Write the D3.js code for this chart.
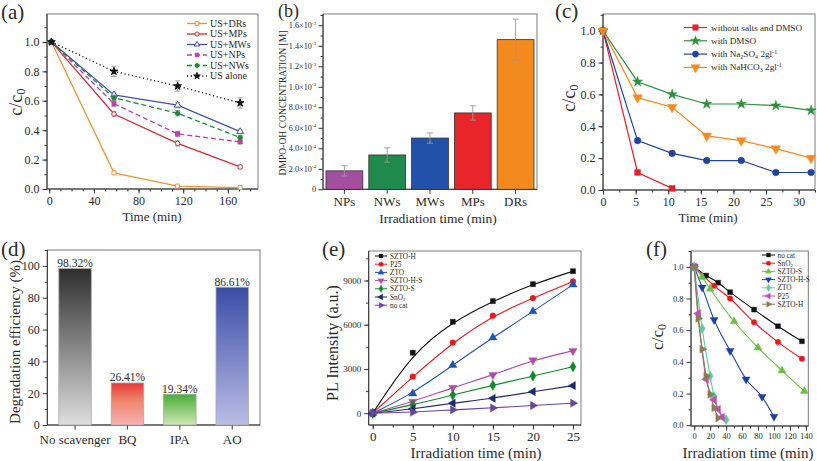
<!DOCTYPE html>
<html><head><meta charset="utf-8">
<script src="https://cdn.jsdelivr.net/npm/d3@7"></script>
<style>body{margin:0;background:#fff}svg{display:block}text{font-family:"Liberation Serif","Times New Roman",serif;fill:#2b2b2b}</style>
</head><body><svg id="c" width="817" height="461"></svg>
<script>
// ---------- DATA ----------
// (a)
const aTime = [2, 58, 115, 171];
const aNames = ["US+DRs","US+MPs","US+MWs","US+NPs","US+NWs","US alone"];
const aDRs = [1.0, 0.11, 0.02, 0.01];
const aMPs = [1.0, 0.51, 0.31, 0.15];
const aMWs = [1.0, 0.64, 0.57, 0.39];
const aNPs = [1.0, 0.58, 0.375, 0.32];
const aNWs = [1.0, 0.62, 0.515, 0.35];
const aAlone = [1.0, 0.80, 0.70, 0.585];
const aErr = [0, 0.03, 0.03, 0.02];
const aXTicks = [0, 40, 80, 120, 160];
const aYTicks = [0, 0.2, 0.4, 0.6, 0.8, 1.0];
// (b)
const bCats = ["NPs","NWs","MWs","MPs","DRs"];
const bVals = [1.8e-4, 3.35e-4, 5.0e-4, 7.45e-4, 1.46e-3];
const bErr = [0.5e-4, 0.7e-4, 0.5e-4, 0.7e-4, 2.0e-4];
const bYTicks = [0, 2e-4, 4e-4, 6e-4, 8e-4, 1.0e-3, 1.2e-3, 1.4e-3, 1.6e-3];
const bYMant = ["0","2.0×10","4.0×10","6.0×10","8.0×10","1.0×10","1.2×10","1.4×10","1.6×10"];
const bYExp = ["","-4","-4","-4","-4","-3","-3","-3","-3"];
// (c)
const cTime = [0, 5.3, 10.6, 15.9, 21.2, 26.5, 31.9];
const cNone = [1.0, 0.11, 0.01];
const cDMSO = [1.0, 0.68, 0.60, 0.54, 0.54, 0.53, 0.50];
const cNa2SO4 = [1.0, 0.31, 0.23, 0.185, 0.185, 0.11, 0.11];
const cNaHCO3 = [1.0, 0.58, 0.52, 0.34, 0.31, 0.26, 0.20];
const cXTicks = [0, 5, 10, 15, 20, 25, 30];
const cYTicks = [0, 0.2, 0.4, 0.6, 0.8, 1.0];
// (d)
const dCats = ["No scavenger","BQ","IPA","AO"];
const dVals = [98.32, 26.41, 19.34, 86.61];
const dLabels = ["98.32%","26.41%","19.34%","86.61%"];
const dYTicks = [0, 20, 40, 60, 80, 100];
// (e)
const eTime = [0, 5, 10, 15, 20, 25];
const eNames = ["SZTO-H","P25","ZTO","SZTO-H-S","SZTO-S","SnO2","no cat"];
const eSZTOH = [0, 4100, 6200, 7600, 8750, 9630];
const eP25 = [0, 2480, 4790, 6610, 7810, 8940];
const eZTO = [0, 1330, 3260, 5130, 6900, 8720];
const eSZTOHS = [0, 790, 1730, 2590, 3600, 4230];
const eSZTOS = [0, 560, 1240, 1890, 2520, 3150];
const eSnO2 = [0, 290, 680, 1010, 1460, 1870];
const eNoCat = [0, 70, 230, 360, 520, 680];
const eXTicks = [0, 5, 10, 15, 20, 25];
const eYTicks = [0, 3000, 6000, 9000];
// (f)
const fNoCatT = [0, 15, 30, 45, 75, 105, 135];
const fNoCat = [1.0, 0.945, 0.90, 0.84, 0.73, 0.625, 0.53];
const fSnO2T = [0, 25, 45, 75, 105, 135];
const fSnO2 = [1.0, 0.88, 0.80, 0.65, 0.525, 0.42];
const fSZTOST = [0, 10, 20, 50, 80, 110, 138];
const fSZTOS = [1.0, 0.935, 0.86, 0.655, 0.49, 0.345, 0.215];
const fSZTOHST = [0, 10, 25, 45, 65, 85, 100];
const fSZTOHS = [1.0, 0.87, 0.665, 0.47, 0.29, 0.18, 0.055];
const fZTOT = [0, 10, 20, 25, 40];
const fZTO = [1.0, 0.61, 0.31, 0.18, 0.035];
const fP25T = [0, 5, 15, 25, 30, 35];
const fP25 = [1.0, 0.705, 0.29, 0.16, 0.10, 0.05];
const fSZTOHT = [0, 5, 10, 15, 20, 25, 30];
const fSZTOH = [1.0, 0.675, 0.48, 0.31, 0.195, 0.11, 0.045];
const fXTicks = [0, 20, 40, 60, 80, 100, 120, 140];
const fYTicks = [0, 0.2, 0.4, 0.6, 0.8, 1.0];

// ---------- HELPERS ----------
const svg = d3.select("#c");
svg.append("rect").attr("width",817).attr("height",461).attr("fill","#fff");

function range(a,b,s){const r=[];for(let v=a;v<=b+1e-9;v+=s)r.push(+v.toFixed(6));return r;}

function frame(x, y){
  const [x0,x1]=x.range(), [y0,y1]=y.range();
  svg.append("rect").attr("x",x0).attr("y",y1).attr("width",x1-x0).attr("height",y0-y1)
    .attr("fill","none").attr("stroke","#7a7a7a").attr("stroke-width",1);
}
function axisX(x, y, ticks, minor, fs, fmt){
  const yb=y.range()[0];
  const g=svg.append("g").attr("transform",`translate(0,${yb})`);
  if(minor) g.append("g").call(d3.axisBottom(x).tickValues(minor).tickSize(2.5).tickFormat("")).call(s=>s.select(".domain").remove());
  const a=d3.axisBottom(x).tickSize(4.5).tickSizeOuter(0).tickPadding(2.5);
  if(ticks) a.tickValues(ticks);
  a.tickFormat(fmt||(d=>d));
  g.append("g").call(a).call(s=>s.select(".domain").remove());
  g.selectAll("text").attr("font-size",fs).attr("font-family","Liberation Serif");
  g.selectAll("line").attr("stroke","#333");
  svg.append("line").attr("x1",x.range()[0]).attr("x2",x.range()[1]).attr("y1",yb).attr("y2",yb).attr("stroke","#333");
  return g;
}
function axisY(x, y, ticks, minor, fs, fmt){
  const xl=x.range()[0];
  const g=svg.append("g").attr("transform",`translate(${xl},0)`);
  if(minor) g.append("g").call(d3.axisLeft(y).tickValues(minor).tickSize(2.5).tickFormat("")).call(s=>s.select(".domain").remove());
  const a=d3.axisLeft(y).tickValues(ticks).tickSize(4.5).tickSizeOuter(0).tickPadding(3).tickFormat(fmt||(d=>d));
  g.append("g").call(a).call(s=>s.select(".domain").remove());
  g.selectAll("text").attr("font-size",fs).attr("font-family","Liberation Serif");
  g.selectAll("line").attr("stroke","#333");
  svg.append("line").attr("x1",xl).attr("x2",xl).attr("y1",y.range()[0]).attr("y2",y.range()[1]).attr("stroke","#333");
  return g;
}
function label(txt,x,y,fs,rot,anchor){
  const t=svg.append("text").attr("x",x).attr("y",y).attr("font-size",fs).attr("text-anchor",anchor||"middle").text(txt);
  if(rot) t.attr("transform",`rotate(-90,${x},${y})`);
  return t;
}
function ccLabel(x,y,fs){
  const t=svg.append("text").attr("transform",`translate(${x},${y}) rotate(-90)`).attr("font-size",fs).attr("text-anchor","middle");
  t.append("tspan").text("c/c");
  t.append("tspan").attr("font-size",fs*0.7).attr("dy",fs*0.15).text("0");
}
const sym={square:d3.symbolSquare,circle:d3.symbolCircle,tri:d3.symbolTriangle,diamond:d3.symbolDiamond,star:d3.symbolStar};
function marker(type,x,y,size,fill,stroke,sw){
  let t=type, rot=0;
  if(type==="triDown"){t="tri";rot=180;} else if(type==="triLeft"){t="tri";rot=-90;} else if(type==="triRight"){t="tri";rot=90;} else if(type==="triUp"){t="tri";}
  svg.append("path").attr("d",d3.symbol().type(sym[t]).size(size)())
    .attr("transform",`translate(${x},${y}) rotate(${rot})`)
    .attr("fill",fill).attr("stroke",stroke||fill).attr("stroke-width",sw||0.8);
}
function panelLetter(t,x,y,fs){ label(t,x,y,fs||21,false,"start"); }

// ---------- (a) ----------
{
  const x=d3.scaleLinear([-2,187],[47,258]), y=d3.scaleLinear([0,1.19],[189,14]);
  frame(x,y);
  axisX(x,y,aXTicks,range(0,180,10),12);
  axisY(x,y,aYTicks,range(0,1.1,0.1),12,d3.format(".1f"));
  const series=[
    {v:aDRs,c:"#e8963c",m:"square",open:true,dash:null},
    {v:aMPs,c:"#c8303c",m:"circle",open:true,dash:null},
    {v:aMWs,c:"#4452a8",m:"triUp",open:true,dash:null},
    {v:aNPs,c:"#c040a8",m:"square",open:false,dash:"5,3"},
    {v:aNWs,c:"#1e8a3c",m:"circle",open:false,dash:"5,3"},
    {v:aAlone,c:"#111",m:"star",open:false,dash:"1.2,2.6"}
  ];
  const line=d3.line().x((d,i)=>x(aTime[i])).y(d=>y(d));
  series.forEach(s=>{
    svg.append("path").attr("d",line(s.v)).attr("fill","none").attr("stroke",s.c).attr("stroke-width",1.3).attr("stroke-dasharray",s.dash);
  });
  series.forEach(s=>{
    s.v.forEach((d,i)=>{
      if(aErr[i]>0 && s.v!==aDRs){
        const e=s.v===aAlone?0.035:aErr[i]*0.6;
        const xx=x(aTime[i]);
        svg.append("line").attr("x1",xx).attr("x2",xx).attr("y1",y(d-e)).attr("y2",y(d+e)).attr("stroke","#888").attr("stroke-width",0.8);
        [d-e,d+e].forEach(v=>svg.append("line").attr("x1",xx-2.5).attr("x2",xx+2.5).attr("y1",y(v)).attr("y2",y(v)).attr("stroke","#888").attr("stroke-width",0.8));
      }
      const sz=s.m==="star"?18:(s.m==="triUp"?20:16);
      marker(s.m,x(aTime[i]),y(d),sz,s.open?"#fff":s.c,s.c,1);
    });
  });
  // legend
  series.forEach((s,i)=>{
    const ly=23.5+i*10.5;
    svg.append("line").attr("x1",187).attr("x2",207).attr("y1",ly).attr("y2",ly).attr("stroke",s.c).attr("stroke-width",1.3).attr("stroke-dasharray",s.dash);
    marker(s.m,197,ly,s.m==="star"?14:13,s.open?"#fff":s.c,s.c,1);
    label(aNames[i],210,ly+3.4,10,false,"start");
  });
  ccLabel(22,102,18);
  label("Time (min)",152,221,13);
  panelLetter("(a)",1,19);
}

// ---------- (b) ----------
{
  const x=d3.scaleBand(bCats,[323,537]).paddingInner(0.14).paddingOuter(0.07), y=d3.scaleLinear([0,1.71e-3],[189.3,14]);
  frame(x,y);
  const gx=axisX(x,y,null,null,13);
  gx.selectAll(".tick text").attr("dy","0.75em");
  axisY(x,y,bYTicks,range(1e-4,1.7e-3,2e-4),8,()=>"");
  bYTicks.forEach((v,i)=>{
    const t=svg.append("text").attr("x",316).attr("y",y(v)+3).attr("font-size",8.2).attr("text-anchor","end");
    t.append("tspan").text(bYMant[i]);
    if(bYExp[i]) t.append("tspan").attr("font-size",5).attr("dy",-3.5).text(bYExp[i]);
  });
  const cols=["#a24fa0","#1f8a4c","#2151a8","#e8252a","#f28a1e"];
  bCats.forEach((c,i)=>{
    svg.append("rect").attr("x",x(c)).attr("y",y(bVals[i])).attr("width",x.bandwidth()).attr("height",y(0)-y(bVals[i]))
      .attr("fill",cols[i]).attr("stroke","#333").attr("stroke-width",0.8);
  });
  bCats.forEach((c,i)=>{
    const xx=x(c)+x.bandwidth()/2;
    svg.append("line").attr("x1",xx).attr("x2",xx).attr("y1",y(bVals[i]-bErr[i])).attr("y2",y(bVals[i]+bErr[i])).attr("stroke","#999").attr("stroke-width",0.9);
    [bVals[i]-bErr[i],bVals[i]+bErr[i]].forEach(v=>svg.append("line").attr("x1",xx-3).attr("x2",xx+3).attr("y1",y(v)).attr("y2",y(v)).attr("stroke","#999").attr("stroke-width",0.9));
  });
  label("DMPO-OH CONCENTRATION [M]",286,103,9.6,true);
  label("Irradiation time (min)",438,222.5,13.5);
  panelLetter("(b)",278,16.5,18);
}

// ---------- (c) ----------
{
  const x=d3.scaleLinear([0,32.5],[603,815]), y=d3.scaleLinear([0,1.105],[190,14]);
  frame(x,y);
  axisX(x,y,cXTicks,range(0,32.5,2.5),12);
  axisY(x,y,cYTicks,range(0,1.1,0.1),12,d3.format(".1f"));
  const series=[
    {v:cNone,c:"#e8202a",m:"square",n:"without salts and DMSO"},
    {v:cDMSO,c:"#2f8f3e",m:"star",n:"with DMSO"},
    {v:cNa2SO4,c:"#2341a0",m:"circle",n:"Na2SO4"},
    {v:cNaHCO3,c:"#f58a1f",m:"triDown",n:"NaHCO3"}
  ];
  const line=d3.line().x((d,i)=>x(cTime[i])).y(d=>y(d));
  series.forEach(s=>svg.append("path").attr("d",line(s.v)).attr("fill","none").attr("stroke",s.c).attr("stroke-width",1.2));
  series.forEach(s=>s.v.forEach((d,i)=>marker(s.m,x(cTime[i]),y(d),s.m==="star"?32:(s.m==="triDown"?40:34),s.c,s.c,0.5)));
  series.forEach((s,i)=>{
    const ly=27.5+i*13.3;
    svg.append("line").attr("x1",684).attr("x2",707).attr("y1",ly).attr("y2",ly).attr("stroke",s.c).attr("stroke-width",1.2);
    marker(s.m,695.5,ly,s.m==="star"?30:(s.m==="triDown"?36:30),s.c,s.c,0.5);
    const t=svg.append("text").attr("x",711).attr("y",ly+3).attr("font-size",9.2);
    if(i<2) t.text(s.n);
    else if(i===2){ t.append("tspan").text("with Na"); t.append("tspan").attr("font-size",6).attr("dy",1.5).text("2");
      t.append("tspan").attr("dy",-1.5).text("SO"); t.append("tspan").attr("font-size",6).attr("dy",1.5).text("4");
      t.append("tspan").attr("dy",-1.5).text(" 2gl"); t.append("tspan").attr("font-size",6).attr("dy",-3).text("-1"); }
    else { t.append("tspan").text("with NaHCO"); t.append("tspan").attr("font-size",6).attr("dy",1.5).text("3");
      t.append("tspan").attr("dy",-1.5).text(" 2gl"); t.append("tspan").attr("font-size",6).attr("dy",-3).text("-1"); }
  });
  ccLabel(575,98,18);
  label("Time (min)",708,222,13);
  panelLetter("(c)",555,18);
}

// ---------- (d) ----------
{
  const x=d3.scaleBand(dCats,[47.3,260]).paddingInner(0.38).paddingOuter(0.22), y=d3.scaleLinear([0,110],[425,250]);
  frame(x,y);
  const gx=axisX(x,y,null,null,13);
  gx.selectAll(".tick text").attr("dy","0.95em");
  axisY(x,y,dYTicks,range(10,110,20),12);
  const grads=[["#2e2e2e","#dedede"],["#e83838","#f7b0b4"],["#49ad37","#cde8b4"],["#3a4ca6","#babde6"]];
  const defs=svg.append("defs");
  grads.forEach((g,i)=>{
    const lg=defs.append("linearGradient").attr("id","dg"+i).attr("x1",0).attr("x2",0).attr("y1",0).attr("y2",1);
    lg.append("stop").attr("offset","0%").attr("stop-color",g[0]);
    if(i===1) lg.append("stop").attr("offset","45%").attr("stop-color","#f08a70");
    lg.append("stop").attr("offset","100%").attr("stop-color",g[1]);
  });
  dCats.forEach((c,i)=>{
    svg.append("rect").attr("x",x(c)).attr("y",y(dVals[i])).attr("width",x.bandwidth()).attr("height",y(0)-y(dVals[i]))
      .attr("fill",`url(#dg${i})`).attr("stroke","#aaa").attr("stroke-width",0.8);
    label(dLabels[i],x(c)+x.bandwidth()/2,y(dVals[i])-1.5,11.5);
  });
  label("Degradation efficiency (%)",20,342,15,true);
  panelLetter("(d)",1,256);
}

// ---------- (e) ----------
{
  const x=d3.scaleLinear([-0.5,26],[368.7,581]), y=d3.scaleLinear([-800,11000],[425,251]);
  frame(x,y);
  axisX(x,y,eXTicks,range(0,25,2.5),13);
  axisY(x,y,eYTicks,range(1500,10500,1500),9);
  const vals=[eSZTOH,eP25,eZTO,eSZTOHS,eSZTOS,eSnO2,eNoCat];
  const cols=["#111","#e8191e","#2052b0","#b04ca8","#14882c","#1f2a6c","#6a45a0"];
  const ms=["square","circle","triUp","triDown","diamond","triLeft","triRight"];
  const line=d3.line().curve(d3.curveBasis).x((d,i)=>x(eTime[i])).y(d=>y(d));
  vals.forEach((v,k)=>svg.append("path").attr("d",line(v)).attr("fill","none").attr("stroke",cols[k]).attr("stroke-width",1.1));
  vals.forEach((v,k)=>v.forEach((d,i)=>marker(ms[k],x(eTime[i]),y(d),ms[k]==="diamond"?32:(ms[k].startsWith("tri")?30:26),cols[k],cols[k],0.4)));
  eNames.forEach((n,k)=>{
    const ly=256+k*8.2;
    svg.append("line").attr("x1",375).attr("x2",387).attr("y1",ly).attr("y2",ly).attr("stroke",cols[k]).attr("stroke-width",1);
    marker(ms[k],381,ly,16,cols[k],cols[k],0.3);
    const t=svg.append("text").attr("x",390).attr("y",ly+2.5).attr("font-size",7.3);
    if(n==="SnO2"){ t.append("tspan").text("SnO"); t.append("tspan").attr("font-size",5).attr("dy",1.2).text("2"); }
    else t.text(n);
  });
  label("PL Intensity (a.u.)",338,343,16,true);
  label("Irradiation time (min)",476,458,15);
  panelLetter("(e)",322,256);
}

// ---------- (f) ----------
{
  const x=d3.scaleLinear([-4,143],[691,808.3]), y=d3.scaleLinear([-0.005,1.1],[426,251]);
  frame(x,y);
  axisX(x,y,fXTicks,range(0,140,10),8.5);
  axisY(x,y,fYTicks,range(0.1,1.1,0.2),8.5,d3.format(".1f"));
  const sets=[
    {t:fNoCatT,v:fNoCat,c:"#111",m:"square",n:"no cat"},
    {t:fSnO2T,v:fSnO2,c:"#e8191e",m:"circle",n:"SnO2"},
    {t:fSZTOST,v:fSZTOS,c:"#6cbf48",m:"triUp",n:"SZTO-S"},
    {t:fSZTOHST,v:fSZTOHS,c:"#1f3fa0",m:"triDown",n:"SZTO-H-S"},
    {t:fZTOT,v:fZTO,c:"#5fcaa8",m:"diamond",n:"ZTO"},
    {t:fP25T,v:fP25,c:"#c24cb6",m:"triLeft",n:"P25"},
    {t:fSZTOHT,v:fSZTOH,c:"#8a7d52",m:"triRight",n:"SZTO-H"}
  ];
  sets.forEach(s=>{
    const line=d3.line().curve(d3.curveMonotoneX).x((d,i)=>x(s.t[i])).y(d=>y(d));
    svg.append("path").attr("d",line(s.v)).attr("fill","none").attr("stroke",s.c).attr("stroke-width",1.1);
  });
  sets.forEach(s=>s.v.forEach((d,i)=>marker(s.m,x(s.t[i]),y(d),s.m==="diamond"?30:(s.m.startsWith("tri")?28:24),s.c,s.c,0.4)));
  sets.forEach((s,k)=>{
    const ly=255+k*8.2;
    svg.append("line").attr("x1",762).attr("x2",775).attr("y1",ly).attr("y2",ly).attr("stroke",s.c).attr("stroke-width",1);
    marker(s.m,768.5,ly,16,s.c,s.c,0.3);
    const t=svg.append("text").attr("x",777.5).attr("y",ly+2.5).attr("font-size",7.3);
    if(s.n==="SnO2"){ t.append("tspan").text("SnO"); t.append("tspan").attr("font-size",5).attr("dy",1.2).text("2"); }
    else t.text(s.n);
  });
  ccLabel(663,337,17);
  label("Irradiation time (min)",748,458,15);
  panelLetter("(f)",646,256);
}
</script></body></html>
